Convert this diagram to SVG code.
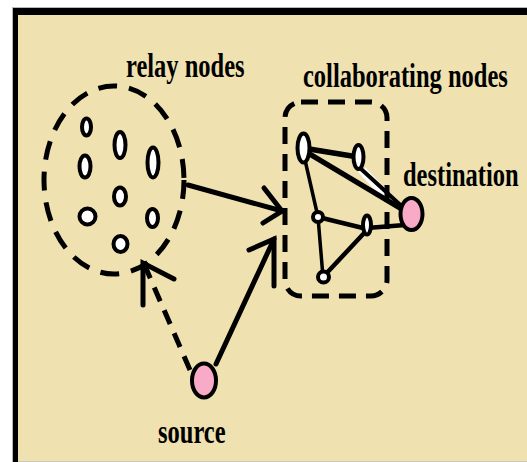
<svg xmlns="http://www.w3.org/2000/svg" width="527" height="462" viewBox="0 0 527 462">
  <style>
    .lbl { font-family: "Liberation Serif", "Times New Roman", serif; font-weight: bold; font-size: 24.5px; fill: #000; }
    .relay { fill: #fff; stroke: #000; stroke-width: 4; }
    .peer { fill: #fff; stroke: #000; stroke-width: 4; }
    .term { fill: #F8AAC6; stroke: #000; stroke-width: 4; }
    .dash-ell { fill: none; stroke: #000; stroke-width: 5; stroke-dasharray: 19 12; }
    .dash-box { fill: none; stroke: #000; stroke-width: 5; stroke-dasharray: 17 10; }
    .link { stroke: #000; stroke-linecap: round; fill: none; }
  </style>

  <!-- page and frame -->
  <rect x="0" y="0" width="527" height="462" fill="#fff"/>
  <rect x="13" y="8" width="514" height="453" fill="#EFE2B0"/>
  <line x1="12" y1="7.5" x2="527" y2="7.5" stroke="#b8b8b8" stroke-width="1"/>
  <line x1="12.5" y1="7" x2="12.5" y2="462" stroke="#b8b8b8" stroke-width="1"/>
  <rect x="13" y="8" width="514" height="7" fill="#000"/>
  <rect x="13" y="8" width="5" height="454" fill="#000"/>
  <line x1="18" y1="461.5" x2="527" y2="461.5" stroke="#c8c8c8" stroke-width="1"/>

  <!-- connectors -->
  <g id="connectors">
    <!-- relay cloud to collaborating group -->
    <line class="link" x1="188" y1="185" x2="282" y2="211" stroke-width="5"/>
    <polyline class="link" points="264,188 282,211 263,223" stroke-width="5"/>
    <!-- source to collaborating group -->
    <line class="link" x1="216" y1="364" x2="274" y2="239" stroke-width="5"/>
    <polyline class="link" points="249,250 274,239 274,286" stroke-width="5"/>
    <!-- source to relay cloud (dashed) -->
    <line x1="190" y1="370" x2="145" y2="266" stroke="#000" stroke-width="5" stroke-dasharray="15 10"/>
    <polyline class="link" points="174,279 143,263 143,305" stroke-width="5"/>

    <!-- links inside the collaborating group -->
    <polygon points="358,172 366,168 392,196 384,200" fill="#fff"/>
    <line class="link" x1="303" y1="148" x2="358" y2="157" stroke-width="5.5"/>
    <line class="link" x1="303" y1="150" x2="410" y2="214" stroke-width="5.5"/>
    <line class="link" x1="360" y1="168" x2="408" y2="212" stroke-width="4"/>
    <line class="link" x1="305" y1="160" x2="318" y2="217" stroke-width="3.5"/>
    <line class="link" x1="318" y1="217" x2="367" y2="229" stroke-width="4.5"/>
    <line class="link" x1="367" y1="228" x2="405" y2="225" stroke-width="4.5"/>
    <line class="link" x1="318" y1="217" x2="323" y2="277" stroke-width="3.5"/>
    <line class="link" x1="323" y1="277" x2="367" y2="230" stroke-width="4.5"/>
  </g>

  <!-- relay cloud -->
  <g id="relay-group">
    <ellipse class="dash-ell" cx="114" cy="180" rx="70" ry="94"/>
  </g>
  <g id="relay-1"><ellipse class="relay" cx="86.5" cy="127" rx="4.5" ry="8.5"/></g>
  <g id="relay-2"><ellipse class="relay" cx="120" cy="145" rx="5.5" ry="13"/></g>
  <g id="relay-3"><ellipse class="relay" cx="85" cy="166.5" rx="5.5" ry="11"/></g>
  <g id="relay-4"><ellipse class="relay" cx="153" cy="162.5" rx="5.5" ry="15"/></g>
  <g id="relay-5"><ellipse class="relay" cx="120" cy="196.5" rx="6" ry="9"/></g>
  <g id="relay-6"><ellipse class="relay" cx="87.5" cy="216.5" rx="8" ry="8"/></g>
  <g id="relay-7"><ellipse class="relay" cx="152.5" cy="218" rx="5.5" ry="9"/></g>
  <g id="relay-8"><ellipse class="relay" cx="120.5" cy="244" rx="7" ry="8"/></g>

  <!-- collaborating group -->
  <g id="collab-group">
    <rect class="dash-box" x="285" y="102" width="102" height="194" rx="16" ry="16"/>
  </g>
  <g id="collab-a"><ellipse class="peer" cx="303.5" cy="148" rx="6" ry="14.5"/></g>
  <g id="collab-b"><ellipse class="peer" cx="358.5" cy="157" rx="5" ry="12"/></g>
  <g id="collab-c"><circle class="peer" cx="318" cy="217" r="5"/></g>
  <g id="collab-d"><ellipse class="peer" cx="367" cy="225" rx="4" ry="9.5"/></g>
  <g id="collab-e"><circle class="peer" cx="323.5" cy="277" r="5.5"/></g>

  <!-- endpoints -->
  <g id="destination"><ellipse class="term" cx="411.5" cy="214" rx="11" ry="16"/></g>
  <g id="source"><ellipse class="term" cx="204" cy="380.5" rx="12" ry="17"/></g>

  <!-- labels -->
  <text class="lbl" transform="translate(126,77) scale(1,1.38)">relay nodes</text>
  <text class="lbl" transform="translate(303,87) scale(1,1.38)">collaborating nodes</text>
  <text class="lbl" transform="translate(403,186) scale(1,1.38)">destination</text>
  <text class="lbl" transform="translate(158,443) scale(1,1.38)">source</text>
</svg>
